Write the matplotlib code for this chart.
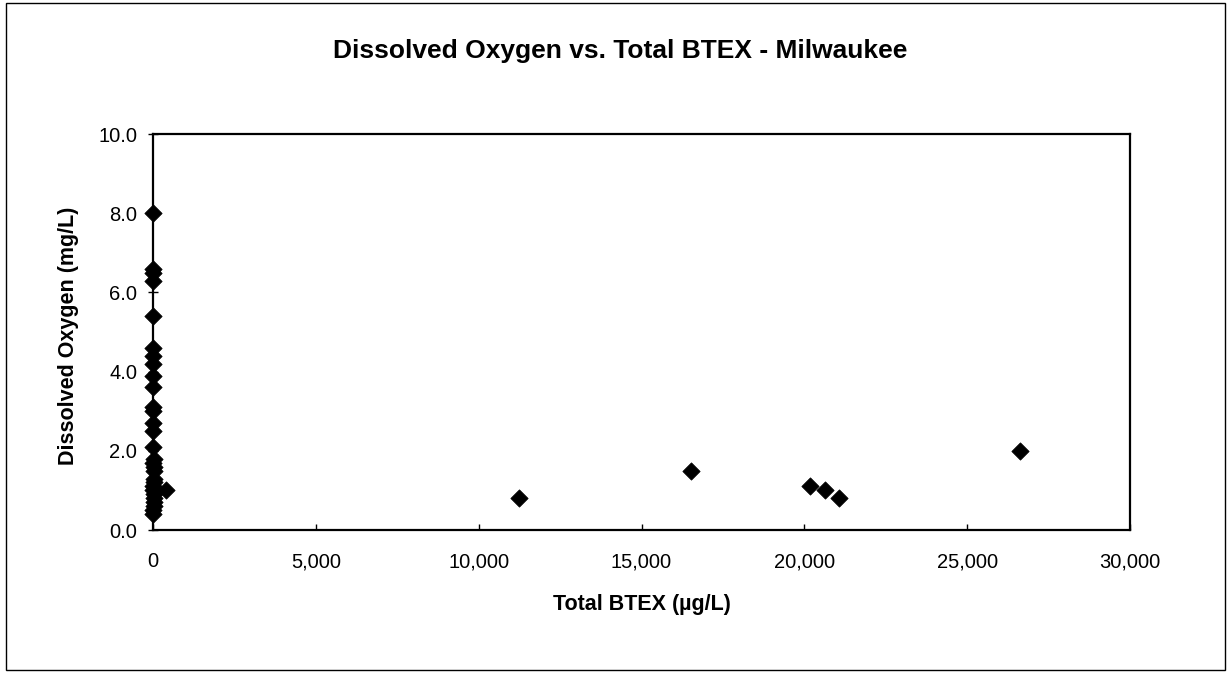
import matplotlib
matplotlib.use("Agg")
import matplotlib.pyplot as plt
from matplotlib.ticker import FuncFormatter, MultipleLocator
from matplotlib.patches import Rectangle

plt.rcParams['font.family'] = ['Liberation Sans', 'DejaVu Sans']

title = "Dissolved Oxygen vs. Total BTEX - Milwaukee"
x_label = "Total BTEX (µg/L)"
y_label = "Dissolved Oxygen (mg/L)"

# Total BTEX (ug/L) and dissolved oxygen (mg/L)
btex = [5, 10, 8, 12, 6, 10, 4, 15, 8, 10, 12, 6, 9, 11, 7,
        20, 15, 25, 30, 18, 22, 14, 10, 26, 30, 20, 16, 12, 10,
        400,
        11250, 16530, 20180, 20630, 21050, 26630]
dissolved_oxygen = [8.0, 6.6, 6.5, 6.3, 5.4, 4.6, 4.4, 4.2, 3.9, 3.6, 3.1, 3.0, 2.7, 2.5, 2.1,
                    1.8, 1.7, 1.6, 1.5, 1.3, 1.2, 1.1, 1.0, 0.9, 0.8, 0.7, 0.6, 0.5, 0.4,
                    1.0,
                    0.8, 1.5, 1.1, 1.0, 0.8, 2.0]

fig = plt.figure(figsize=(12.31, 6.73), dpi=100)
ax = fig.add_axes([153/1231, 1 - 530/673, (1130 - 153)/1231, (530 - 134)/673])

ax.scatter(btex, dissolved_oxygen, marker='D', s=78, color='black',
           edgecolors='black', linewidths=0.5, zorder=3, clip_on=False)

ax.set_xlim(0, 30000)
ax.set_ylim(0, 10)
ax.xaxis.set_major_locator(MultipleLocator(5000))
ax.yaxis.set_major_locator(MultipleLocator(2))
ax.xaxis.set_major_formatter(FuncFormatter(lambda v, p: f"{int(v):,}"))
ax.yaxis.set_major_formatter(FuncFormatter(lambda v, p: f"{v:.1f}"))

for s in ax.spines.values():
    s.set_linewidth(1.6)

ax.tick_params(axis='y', direction='inout', length=7, width=1, pad=8, labelsize=14.5)
ax.tick_params(axis='x', direction='in', length=4, width=1, pad=16, labelsize=14.5)

ax.set_xlabel(x_label, fontsize=15.5, fontweight='bold')
ax.set_ylabel(y_label, fontsize=15.5, fontweight='bold')
ax.xaxis.set_label_coords(0.5, -0.187)
ax.yaxis.set_label_coords(-0.087, 0.49)
ax.xaxis.label.set_va('center')
ax.yaxis.label.set_va('center')

fig.text(620/1231, 1 - 51/673, title, ha='center', va='center',
         fontsize=19, fontweight='bold')

fig.patches.append(Rectangle((0.005, 0.004), 0.99, 0.991, transform=fig.transFigure,
                             fill=False, edgecolor='black', linewidth=1))

fig.savefig("out.png", dpi=100)
